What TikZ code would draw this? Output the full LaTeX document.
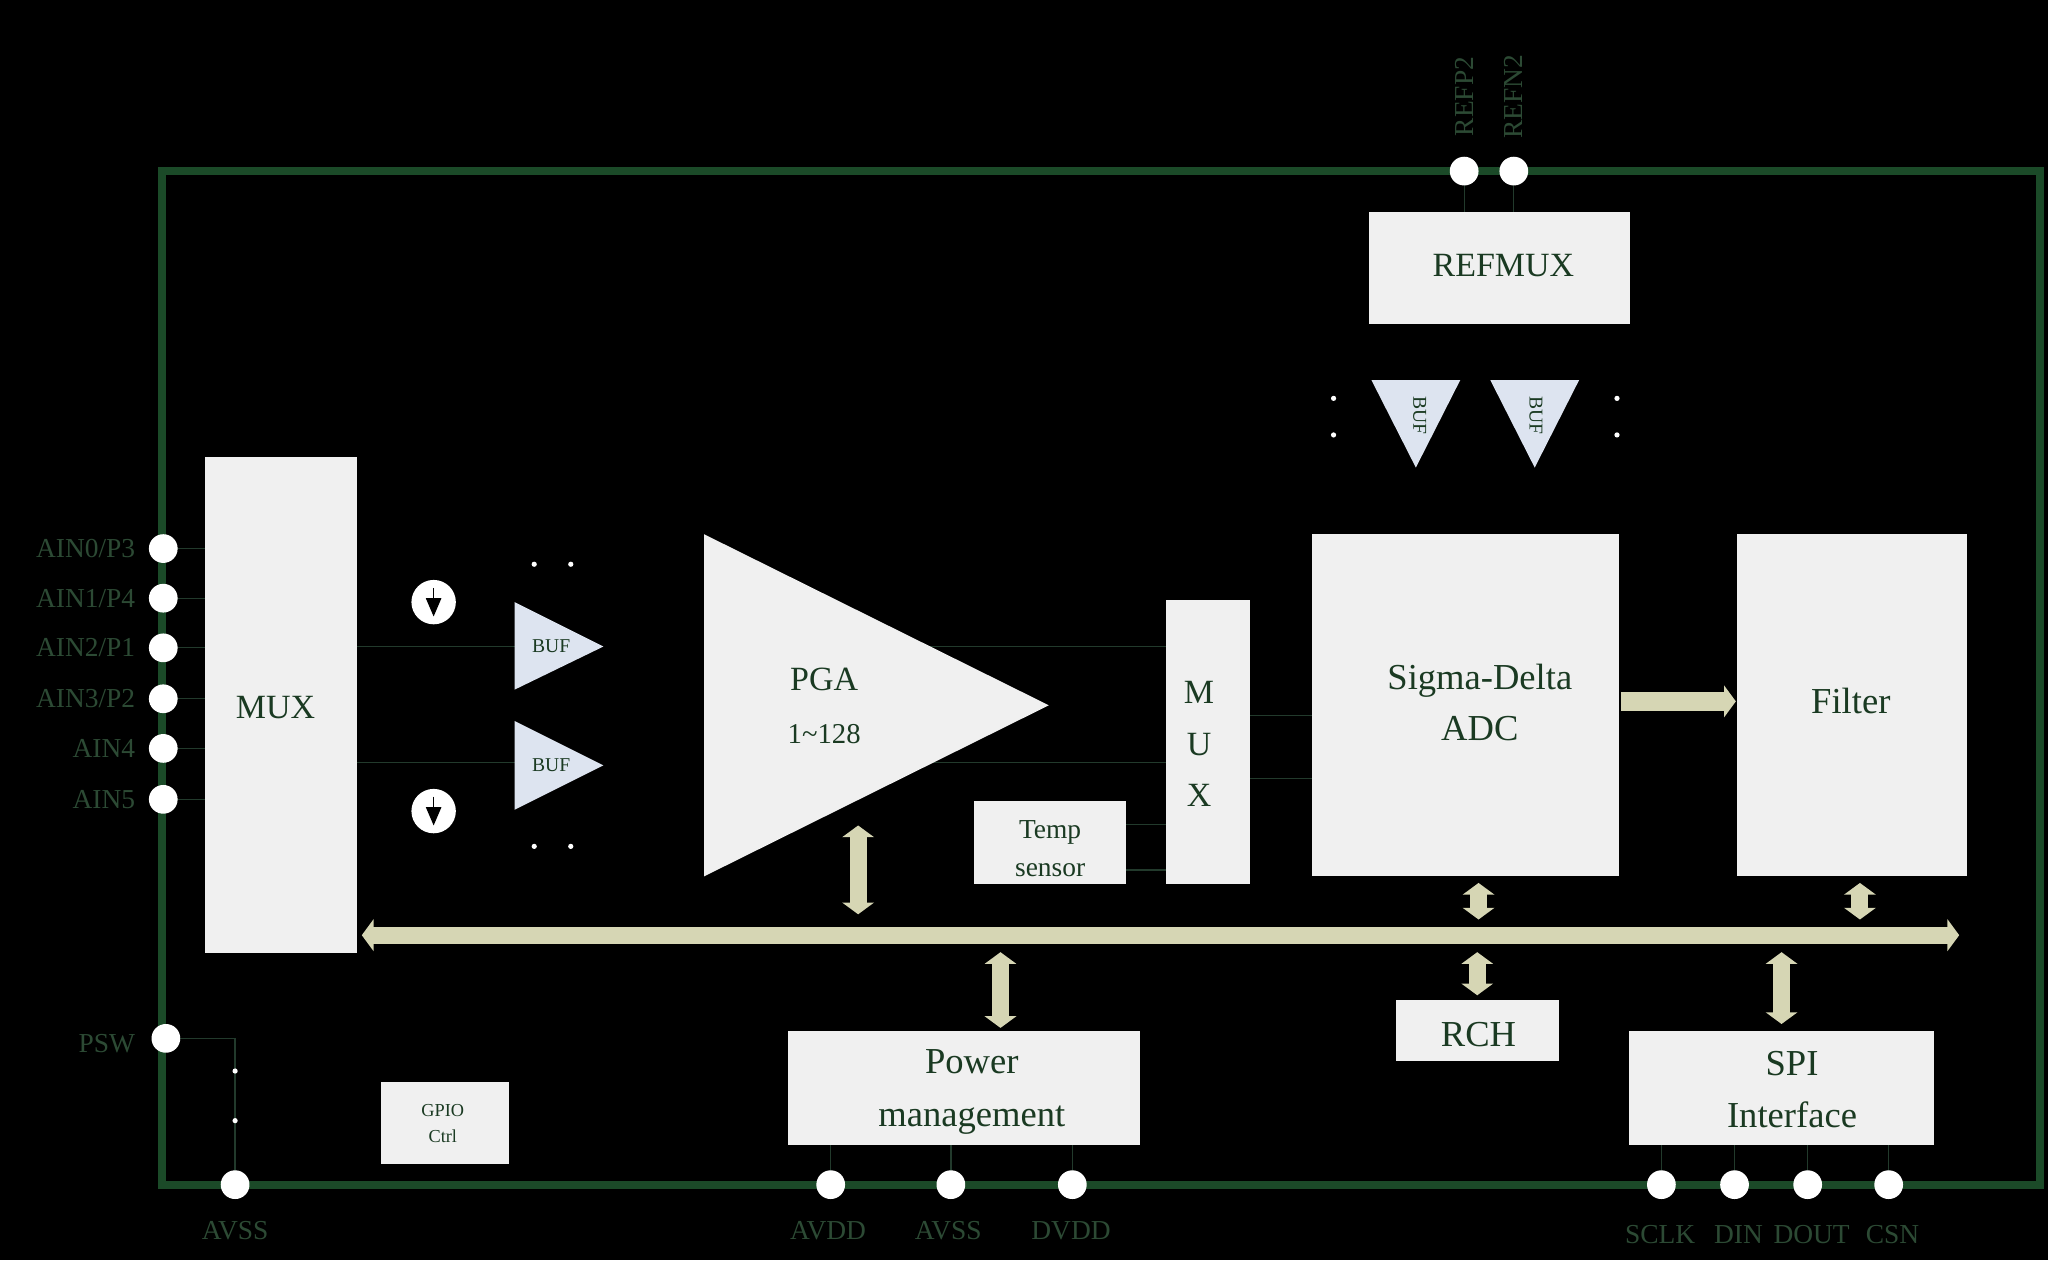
\documentclass[tikz,border=0pt]{standalone}
\usepackage{fontspec}
\setmainfont{Liberation Serif}
\usetikzlibrary{arrows.meta}
\definecolor{txt}{HTML}{1A3A22}
\definecolor{pintxt}{HTML}{2C4A34}
\definecolor{frame}{HTML}{1B4A28}
\definecolor{box}{HTML}{F0F0F0}
\definecolor{buf}{HTML}{DDE4F0}
\definecolor{bus}{HTML}{D6D6B4}
\definecolor{wire}{HTML}{223A2C}
\tikzset{
 blk/.style={fill=box,draw=none},
 lbl/.style={text=txt,font=\fontsize{26}{30}\selectfont,align=center},
 pin/.style={circle,fill=white,draw=none,minimum size=22pt,inner sep=0pt},
 pinlbl/.style={text=pintxt,font=\fontsize{21}{24}\selectfont},
 wire/.style={draw=wire,line width=1pt},
 fat/.style={draw=bus,line width=13pt,{Triangle[width=24pt,length=9pt]}-{Triangle[width=24pt,length=9pt]}},
 dot/.style={circle,fill=white,minimum size=4pt,inner sep=0pt},
}
\begin{document}
\begin{tikzpicture}[x=1pt,y=-1pt]
\fill[black] (0,0) rectangle (1568,965);
\useasboundingbox (0,0) rectangle (1568,965);
\draw[frame,line width=6pt] (124,131) rectangle (1562,907);
% wires
\draw[wire] (273,495) -- (394,495); \draw[wire] (273,584) -- (394,584);
\draw[wire] (700,495) -- (893,495); \draw[wire] (700,584) -- (893,584);
\draw[wire] (862,631) -- (893,631); \draw[wire] (862,666) -- (893,666);
\draw[wire] (957,548) -- (1005,548); \draw[wire] (957,596) -- (1005,596);
\draw[wire] (1121,131) -- (1121,162); \draw[wire] (1159,131) -- (1159,162);
\draw[wire] (127,795) -- (180,795) -- (180,907);
\foreach \x in {636,728,821} \draw[wire] (\x,877) -- (\x,907);
\foreach \x in {1272,1328,1384,1446} \draw[wire] (\x,877) -- (\x,907);
\foreach \y in {420,458,496,535,573,612} \draw[wire] (125,\y) -- (157,\y);
% blocks
\node[blk,minimum width=116pt,minimum height=380pt] (mux) at (215,540) {};
\node[lbl] at (211,542) {MUX};
\fill[box] (539,409) -- (539,671) -- (803,540) -- cycle;
\node[lbl] (pga) at (631,520) {PGA};
\node[lbl,font=\fontsize{22}{26}\selectfont] at (631,562) {1\textasciitilde128};
\node[blk,minimum width=64pt,minimum height=218pt] (mux2) at (925,568) {};
\node[lbl] at (918,530) {M}; \node[lbl] at (918,570) {U}; \node[lbl] at (918,609) {X};
\node[blk,minimum width=116pt,minimum height=63pt] (temp) at (804,645) {};
\node[lbl,font=\fontsize{21}{29}\selectfont] at (804,650) {Temp\\sensor};
\node[blk,minimum width=235pt,minimum height=262pt] (adc) at (1122,540) {};
\node[lbl,font=\fontsize{28}{39}\selectfont] at (1133,538) {Sigma-Delta\\ADC};
\node[blk,minimum width=176pt,minimum height=262pt] (filt) at (1418,540) {};
\node[lbl,font=\fontsize{28}{32}\selectfont] at (1417,537) {Filter};
\node[blk,minimum width=200pt,minimum height=86pt] (refmux) at (1148,205) {};
\node[lbl] at (1151,203) {REFMUX};
\node[blk,minimum width=270pt,minimum height=87pt] (pwr) at (738,833) {};
\node[lbl,font=\fontsize{28}{40}\selectfont] at (744,836) {Power\\management};
\node[blk,minimum width=125pt,minimum height=46pt] (rch) at (1131,789) {};
\node[lbl,font=\fontsize{28}{32}\selectfont] at (1132,792) {RCH};
\node[blk,minimum width=234pt,minimum height=87pt] (spi) at (1364,833) {};
\node[lbl,font=\fontsize{28}{40}\selectfont] at (1372,834) {SPI\\Interface};
\node[blk,minimum width=98pt,minimum height=63pt] (gpio) at (341,860) {};
\node[lbl,font=\fontsize{14}{20}\selectfont] at (339,860) {GPIO\\Ctrl};
% buffers
\fill[buf] (394,461) -- (394,528) -- (462,495) -- cycle;
\node[lbl,font=\fontsize{15}{18}\selectfont] at (422,495) {BUF};
\fill[buf] (394,552) -- (394,620) -- (462,586) -- cycle;
\node[lbl,font=\fontsize{15}{18}\selectfont] at (422,586) {BUF};
\fill[buf] (1050,291) -- (1118,291) -- (1084,358) -- cycle;
\node[lbl,font=\fontsize{15}{18}\selectfont,rotate=-90] at (1087,318) {BUF};
\fill[buf] (1141,291) -- (1209,291) -- (1175,358) -- cycle;
\node[lbl,font=\fontsize{15}{18}\selectfont,rotate=-90] at (1176,318) {BUF};
% current sources
\foreach \y/\n in {461/cs1,621/cs2}{
 \node[circle,fill=white,minimum size=34pt,inner sep=0pt] (\n) at (332,\y) {};
 \draw[black,line width=0.8pt] (332,\y-11) -- (332,\y-3);
 \fill[black] (326,\y-3) -- (338,\y-3) -- (332,\y+11) -- cycle;
}
% dots
\foreach \p in {(409,432),(437,432),(409,648),(437,648),(1021,305),(1021,333),(1238,305),(1238,333),(180,820),(180,858)}
 \node[dot] at \p {};
% arrows
\draw[fat] (277,716) -- (1500,716);
\draw[draw=bus,line width=15pt,-{Triangle[width=24pt,length=9pt]}] (1241,537) -- (1329,537);
\draw[fat] (657,632) -- (657,700);
\draw[fat] (766,729) -- (766,787);
\draw[fat] (1132,676) -- (1132,704);
\draw[fat] (1131,729) -- (1131,762);
\draw[fat] (1424,676) -- (1424,704);
\draw[fat] (1364,729) -- (1364,784);
% pins
\foreach \y/\t [count=\i] in {420/AIN0\slash P3,458/AIN1\slash P4,496/AIN2\slash P1,535/AIN3\slash P2,573/AIN4,612/AIN5}{
 \node[pin] (l\i) at (125,\y) {};
 \node[pinlbl,anchor=east] at (107,\y) {\t};
}
\node[pin] (psw) at (127,795) {};
\node[pinlbl,anchor=east] at (107,799) {PSW};
\foreach \x/\t [count=\i] in {180/AVSS,636/AVDD,728/AVSS,821/DVDD,1272/SCLK,1328/DIN,1384/DOUT,1446/CSN}{
 \node[pin] (b\i) at (\x,907) {};
}
\foreach \x/\t in {180/AVSS,634/AVDD,726/AVSS,820/DVDD}
 \node[pinlbl] at (\x,942) {\t};
\foreach \x/\t in {1271/SCLK,1331/DIN,1387/DOUT,1449/CSN}
 \node[pinlbl] at (\x,945) {\t};
\node[pin] (rp) at (1121,131) {};
\node[pin] (rn) at (1159,131) {};
\node[pinlbl,rotate=90] at (1121,74) {REFP2};
\node[pinlbl,rotate=90] at (1159,74) {REFN2};
\end{tikzpicture}
\end{document}
